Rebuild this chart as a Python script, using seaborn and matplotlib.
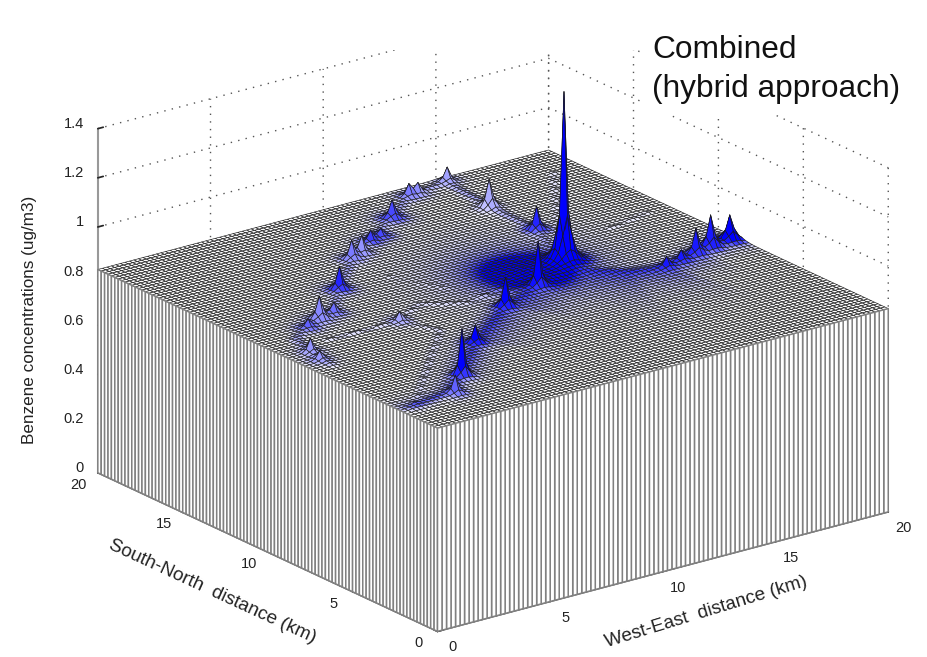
import numpy as np
import matplotlib
matplotlib.use('Agg')
from matplotlib import pyplot as plt
from matplotlib.patches import Rectangle
from mpl_toolkits.mplot3d import proj3d
from mpl_toolkits.mplot3d.art3d import Poly3DCollection
import seaborn as sns

# spikes: km position, height above background, colour tone, width
peak_x = [13.6, 13.6, 12.04, 0.97, 0.74, 2.40, 3.17, 4.05, 5.59, 7.72, 8.30, 9.37, 9.90, 11.33, 13.12, 13.5, 15.1,
          14.85, 14.78, 5.33, 2.55, 3.74, 6.23, 9.26, 11.32, 16.2, 16.93, 17.86, 18.7, 19.7]
peak_y = [10.7, 10.7, 10.6, 8.76, 8.05, 10.84, 11.27, 11.49, 13.24, 15.41, 15.6, 16.31, 16.67, 17.73, 19.16, 19.26,
          19.54, 16.58, 13.85, 9.37, 2.50, 3.61, 6.03, 8.29, 9.25, 7.95, 8.16, 8.34, 8.58, 8.8]
peak_h = [0.56, 0.13, 0.008, 0.05, 0.03, 0.03, 0.09, 0.04, 0.09, 0.07, 0.07, 0.04, 0.03, 0.07, 0.045, 0.04, 0.055,
          0.11, 0.09, 0.04, 0.07, 0.19, 0.07, 0.12, 0.18, 0.04, 0.04, 0.10, 0.13, 0.10]
peak_tone = [1, 1, 1, 0.4, 0.4, 0.6, 0.45, 0.55, 0.85, 0.5, 0.4, 0.75, 0.7, 0.7, 0.5, 0.35, 0.35,
             0.25, 0.85, 0.35, 0.6, 1, 1, 1, 1, 0.9, 0.9, 0.9, 0.9, 1]
peak_w = [0.14, 0.4, 0.8, 0.17, 0.17, 0.17, 0.2, 0.17, 0.18, 0.18, 0.18, 0.17, 0.17, 0.2, 0.17, 0.17, 0.18,
          0.2, 0.18, 0.17, 0.17, 0.16, 0.18, 0.18, 0.16, 0.17, 0.17, 0.18, 0.2, 0.22]

# road lines on the map, km
main_x = [0.54, 2.49, 3.74, 6.23, 9.26, 11.32, 13.0, 14.07, 14.9, 16.2, 17.86, 19.7]
main_y = [2.12, 2.54, 3.61, 6.03, 8.29, 9.25, 9.9, 9.07, 8.43, 7.95, 8.34, 8.8]
main_glow = [0.15, 0.25, 0.4, 0.7, 1.1, 1.5, 1.7, 1.5, 1.1, 0.6, 0.3, 0.2]
ring_x = [0.8, 0.97, 1.34, 2.4, 4.05, 5.59, 8.0, 11.33, 13.12, 15.1, 14.85, 14.78, 13.6]
ring_y = [7.37, 8.76, 10.1, 10.84, 11.49, 13.24, 15.5, 17.73, 19.16, 19.54, 16.58, 13.85, 10.7]
mid_x = [2.24, 3.66, 5.33, 6.9, 8.52, 10.15]
mid_y = [9.44, 9.38, 9.37, 10.33, 9.36, 9.76]
pale_x = [7.76, 9.36, 11.32]
pale_y = [13.23, 9.48, 9.25]
north_x = [18.75, 16.0, 14.6]
north_y = [18.05, 14.2, 11.5]
east_x = [16.8, 18.95]
east_y = [12.3, 12.84]
link_x = [0.54, 5.34, 6.0, 5.33]
link_y = [2.12, 7.09, 7.8, 9.37]

# white specks on the flat part of the surface
speck_x = [10.4, 2.65, 13.25, 12.86, 8.53, 5.1, 18.16, 9.5, 3.0, 2.0, 5.4, 11.2, 15.4]
speck_y = [19.7, 18.9, 16.5, 15.06, 12.9, 15.25, 12.55, 5.19, 12.65, 12.17, 7.07, 3.1, 4.6]

x_ticks = [0, 5, 10, 15, 20]
y_ticks = [0, 5, 10, 15, 20]
z_ticks = [0, 0.2, 0.4, 0.6, 0.8, 1, 1.2, 1.4]
z_labels = ['0', '0.2', '0.4', '0.6', '0.8', '1', '1.2', '1.4']
background = 0.827


def path_distance(X, Y, xs, ys):
    best = np.full(X.shape, np.inf)
    seg = np.zeros(X.shape, dtype=int)
    side = np.zeros(X.shape)
    for i in range(len(xs) - 1):
        ax_, ay_ = xs[i], ys[i]
        dx, dy = xs[i + 1] - ax_, ys[i + 1] - ay_
        t = np.clip(((X - ax_) * dx + (Y - ay_) * dy) / (dx * dx + dy * dy), 0, 1)
        d = np.hypot(X - ax_ - t * dx, Y - ay_ - t * dy)
        closer = d < best
        best[closer] = d[closer]
        seg[closer] = i
        side[closer] = (dx * (Y - ay_) - dy * (X - ax_))[closer]
    return best, seg, side


def tick_text(ax, x, y, z, label, ha='center'):
    # plain 2D text at the projected spot of a 3D position
    x2, y2, _ = proj3d.proj_transform(x, y, z, ax.get_proj())
    ax.text2D(x2, y2, label, transform=ax.transData, fontsize=10.5, ha=ha, va='center', color='#222222')


xs = np.linspace(0, 20, 101)
ys = np.linspace(0, 20, 101)
X, Y = np.meshgrid(xs, ys)
IX, IY = np.meshgrid(np.arange(101), np.arange(101))
Z = np.full(X.shape, background)
T = np.zeros(X.shape)

# blue band along the main road, wide on its south-east side
d, seg, side = path_distance(X, Y, main_x, main_y)
glow = np.array(main_glow)[seg]
T = np.maximum(T, np.where(side < 0, 0.85 * np.exp(-d / glow), 0.9 * np.exp(-d / 0.35)))
Z += 0.006 * np.exp(-(d / 0.35) ** 2)

# minor roads show up as broken dark dots
broken = ((IX + IY) // 3) % 2
d, _, _ = path_distance(X, Y, ring_x, ring_y)
T = np.maximum(T, 0.4 * np.exp(-(d / 0.2) ** 2))
Z += 0.007 * np.exp(-(d / 0.2) ** 2)
for rx, ry, tone, lift in [(mid_x, mid_y, 0.2, 0.006), (pale_x, pale_y, 0.12, 0.003),
                           (north_x, north_y, 0.15, 0.005), (east_x, east_y, 0.12, 0.005),
                           (link_x, link_y, 0.2, 0.005)]:
    d, _, _ = path_distance(X, Y, rx, ry)
    T = np.maximum(T, tone * np.exp(-(d / 0.13) ** 2))
    Z += lift * broken * np.exp(-(d / 0.13) ** 2)

for px, py, h, tone, w in zip(peak_x, peak_y, peak_h, peak_tone, peak_w):
    # snap on to a grid node so that the spike keeps its full height
    px = round(px / 0.2) * 0.2
    py = round(py / 0.2) * 0.2
    prof = (1 + (np.hypot(X - px, Y - py) / w) ** 2) ** -1.5
    Z += h * prof
    T = np.maximum(T, tone * np.clip(prof / 0.08, 0, 1))

cmap = sns.blend_palette(['#ffffff', '#a6a6ff', '#5050ff', '#0000ff'], as_cmap=True)
cell_T = (T[:-1, :-1] + T[1:, 1:] + T[:-1, 1:] + T[1:, :-1]) / 4
face = cmap(cell_T)

sns.set_theme(style='white')
plt.rcParams['font.family'] = ['Liberation Sans', 'DejaVu Sans']

fig = plt.figure(figsize=(9.28, 6.57), dpi=100)
# axes is forced square: keep it 928 px so nothing gets clipped
ax = fig.add_axes([16.5 / 928, -0.2128, 1.0, 1.4125], projection='3d', proj_type='ortho')
ax.view_init(elev=20.6, azim=-127)
ax.set_box_aspect((565, 565, 368), zoom=0.9193)

ax.plot_surface(X, Y, Z, rstride=1, cstride=1, facecolors=face, edgecolor='#1a1a1a', linewidth=0.45, shade=False,
                antialiased=True)

skirt = []
for i in range(len(xs) - 1):
    skirt.append([(xs[i], 0, 0), (xs[i + 1], 0, 0), (xs[i + 1], 0, Z[0, i + 1]), (xs[i], 0, Z[0, i])])
    skirt.append([(0, ys[i], 0), (0, ys[i + 1], 0), (0, ys[i + 1], Z[i + 1, 0]), (0, ys[i], Z[i, 0])])
ax.add_collection3d(Poly3DCollection(skirt, facecolors='white', edgecolors='#808080', linewidths=1.1))

ax.scatter(speck_x, speck_y, [background + 0.006] * len(speck_x), c='white', s=7, linewidths=0, depthshade=False,
           zorder=10)

ax.set_xlim(0, 20)
ax.set_ylim(0, 20)
ax.set_zlim(0, 1.4)
ax.set_xticks(x_ticks)
ax.set_yticks(y_ticks)
ax.set_zticks(z_ticks)
ax.set_xticklabels([])
ax.set_yticklabels([])
ax.set_zticklabels([])

# tick labels sit off the corner like the MATLAB ones, offsets in km
ax.apply_aspect()
for t in x_ticks:
    tick_text(ax, t - 0.55, -1.61, 0, str(t))
for t in y_ticks:
    tick_text(ax, -1.26, t - 0.56, 0, str(t))
for t, lab in zip(z_ticks, z_labels):
    tick_text(ax, -0.12, 20.66, t, lab, ha='right')

for axis in (ax.xaxis, ax.yaxis, ax.zaxis):
    axis.pane.set_facecolor('white')
    axis.pane.set_edgecolor('none')
    axis._axinfo['grid'].update(color='#555555', linestyle=(0, (1, 4.5)), linewidth=1.0)
    axis._axinfo['tick'].update(inward_factor=0.0, outward_factor=0.15, color='#666666')
    axis.line.set_color('#666666')
ax.zaxis.line.set_color('#999999')
ax.zaxis.line.set_linewidth(1.5)

# the source picture has white patches cutting the grid at the top
fig.add_artist(Rectangle((0, 1 - 50 / 657), 1, 50 / 657, transform=fig.transFigure, fc='white', ec='none', zorder=5))
fig.add_artist(Rectangle((640 / 928, 1 - 115 / 657), 288 / 928, 115 / 657, transform=fig.transFigure, fc='white',
                         ec='none', zorder=5))

fig.text(706 / 928, 1 - 612 / 657, 'West-East  distance (km)', fontsize=13.7, rotation=17, ha='center', va='center',
         color='#222222', zorder=6)
fig.text(212 / 928, 1 - 592 / 657, 'South-North  distance (km)', fontsize=13.7, rotation=-24.7, ha='center',
         va='center', color='#222222', zorder=6)
fig.text(30 / 928, 1 - 320 / 657, 'Benzene concentrations (ug/m3)', fontsize=12.3, rotation=90, ha='center',
         va='center', color='#222222', zorder=6)
fig.text(652 / 928, 1 - 50 / 657, 'Combined', fontsize=22.8, va='center', color='#111111', zorder=6)
fig.text(652 / 928, 1 - 89 / 657, '(hybrid approach)', fontsize=22.8, va='center', color='#111111', zorder=6)

fig.savefig('out.png', dpi=100)
